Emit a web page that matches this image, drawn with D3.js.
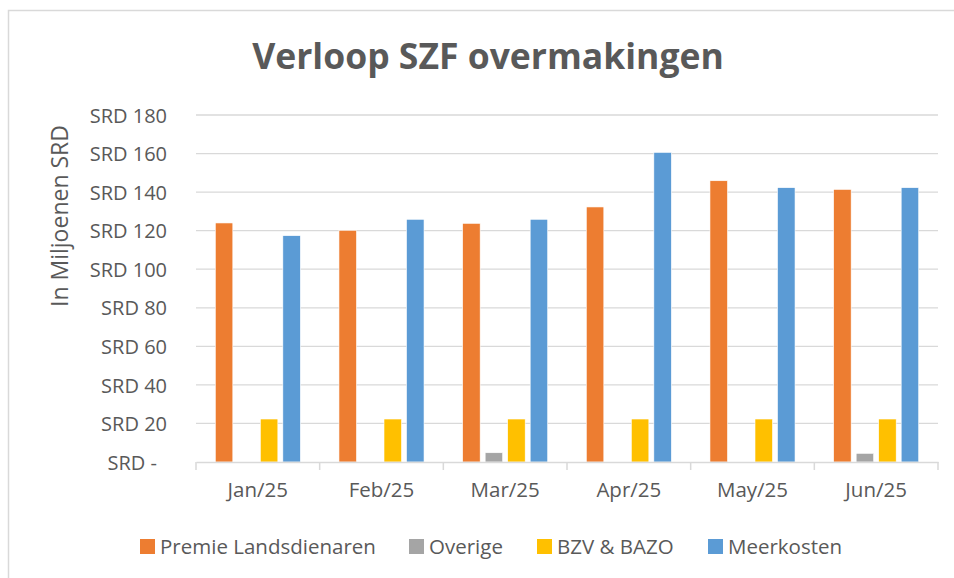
<!DOCTYPE html>
<html>
<head>
<meta charset="utf-8">
<script src="https://cdn.jsdelivr.net/npm/d3@7"></script>
<style>
  body { margin: 0; background: #fff; }
  svg text { font-family: "Open Sans", sans-serif; fill: #595959; }
</style>
</head>
<body>
<div id="chart"></div>
<script>
var months = ["Jan/25", "Feb/25", "Mar/25", "Apr/25", "May/25", "Jun/25"];
var seriesNames = ["Premie Landsdienaren", "Overige", "BZV & BAZO", "Meerkosten"];
var premie = [124.0, 120.2, 123.8, 132.3, 145.9, 141.4];
var overige = [0, 0, 4.8, 0, 0, 4.5];
var bzv = [22.3, 22.3, 22.3, 22.3, 22.3, 22.3];
var meerkosten = [117.4, 125.9, 125.9, 160.6, 142.3, 142.3];
var yTicks = [0, 20, 40, 60, 80, 100, 120, 140, 160, 180];
var colors = ["#ED7D31", "#A5A5A5", "#FFC000", "#5B9BD5"];

var width = 954, height = 578;
var margin = {top: 115, right: 16, bottom: 116, left: 196};

var svg = d3.select("#chart").append("svg")
    .attr("width", width)
    .attr("height", height);

// chart frame
svg.append("rect")
    .attr("x", 8.5).attr("y", 10.5)
    .attr("width", width).attr("height", height)
    .attr("fill", "none")
    .attr("stroke", "#d9d9d9")
    .attr("stroke-width", 1.5);

var data = months.map(function (m, i) {
    return {month: m, values: [premie[i], overige[i], bzv[i], meerkosten[i]]};
});

var x = d3.scaleBand().domain(months).range([margin.left, width - margin.right]);
var inner = d3.scaleBand().domain(d3.range(seriesNames.length))
    .range([19.3, x.bandwidth() - 19.3]).paddingInner(0.222);
var y = d3.scaleLinear().domain([0, 180]).range([height - margin.bottom, margin.top]);

// gridlines
svg.append("g")
    .selectAll("line")
    .data(yTicks.slice(1))
    .enter().append("line")
    .attr("x1", margin.left).attr("x2", width - margin.right)
    .attr("y1", function (d) { return y(d); })
    .attr("y2", function (d) { return y(d); })
    .attr("stroke", "#d9d9d9")
    .attr("stroke-width", 1.3);

// y axis labels
var yAxis = svg.append("g")
    .attr("transform", "translate(167,0)")
    .call(d3.axisLeft(y).tickValues(yTicks).tickSize(0).tickPadding(0)
        .tickFormat(function (d) { return d === 0 ? "SRD -" : "SRD " + d; }));
yAxis.select(".domain").remove();
yAxis.selectAll("text")
    .attr("font-size", "20px")
    .attr("dy", "0.36em")
    .attr("x", function (d) { return d === 0 ? -10 : 0; });

// bars
var groups = svg.append("g").selectAll("g")
    .data(data)
    .enter().append("g")
    .attr("transform", function (d) { return "translate(" + x(d.month) + ",0)"; });

groups.selectAll("rect")
    .data(function (d) { return d.values; })
    .enter().append("rect")
    .attr("x", function (d, i) { return inner(i); })
    .attr("y", function (d) { return y(d); })
    .attr("width", inner.bandwidth())
    .attr("height", function (d) { return y(0) - y(d); })
    .attr("fill", function (d, i) { return colors[i]; })
    .attr("stroke", "#fff")
    .attr("stroke-width", 0.6);

// x axis
var xAxis = svg.append("g")
    .attr("transform", "translate(0," + y(0) + ")")
    .call(d3.axisBottom(x).tickSize(0).tickPadding(25));
xAxis.select(".domain")
    .attr("stroke", "#d9d9d9").attr("stroke-width", 1.5);
xAxis.selectAll("text").attr("font-size", "20.5px").attr("dy", "0.5em");

// category separators
svg.append("g").selectAll("line")
    .data(months.concat(["end"]))
    .enter().append("line")
    .attr("x1", function (d, i) { return margin.left + i * x.step(); })
    .attr("x2", function (d, i) { return margin.left + i * x.step(); })
    .attr("y1", y(0)).attr("y2", y(0) + 8)
    .attr("stroke", "#d9d9d9").attr("stroke-width", 1.5);

// title
svg.append("text")
    .attr("x", 488).attr("y", 69)
    .attr("text-anchor", "middle")
    .attr("font-size", "35.5px")
    .attr("font-weight", "bold")
    .text("Verloop SZF overmakingen");

// y axis title
svg.append("text")
    .attr("transform", "translate(68,216) rotate(-90)")
    .attr("text-anchor", "middle")
    .attr("font-size", "23px")
    .text("In Miljoenen SRD");

// legend
var legendX = [140, 409, 537, 708];
var legend = svg.append("g").selectAll("g")
    .data(seriesNames)
    .enter().append("g")
    .attr("transform", function (d, i) { return "translate(" + legendX[i] + ",539)"; });
legend.append("rect")
    .attr("width", 15).attr("height", 15)
    .attr("fill", function (d, i) { return colors[i]; });
legend.append("text")
    .attr("x", 20).attr("y", 15)
    .attr("font-size", "20.5px")
    .text(function (d) { return d; });
</script>
</body>
</html>
